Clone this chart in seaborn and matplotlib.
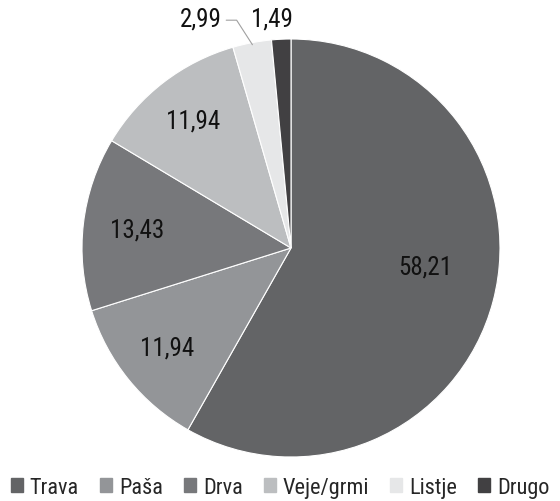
import numpy as np
import matplotlib
matplotlib.use("Agg")
import matplotlib.pyplot as plt
import seaborn as sns

categories = ["Trava", "Paša", "Drva", "Veje/grmi", "Listje", "Drugo"]
values = [58.21, 11.94, 13.43, 11.94, 2.99, 1.49]
labels = ["58,21", "11,94", "13,43", "11,94", "2,99", "1,49"]
colors = ["#636466", "#939598", "#77787b", "#bcbec0", "#e6e7e8", "#414042"]

sns.set_theme(style="white")
plt.rcParams["font.family"] = ["Roboto Condensed", "Liberation Sans Narrow", "Roboto", "DejaVu Sans"]

fig = plt.figure(figsize=(5.6, 5.02), dpi=100)
R_px = 209
cx, cy = 291, 502 - 249
ax = fig.add_axes([(cx - R_px) / 560, (cy - R_px) / 502, 2 * R_px / 560, 2 * R_px / 502])
wedges, _ = ax.pie(values, colors=colors, startangle=90, counterclock=False,
                   wedgeprops=dict(edgecolor="white", linewidth=0.8))
ax.set_xlim(-1, 1)
ax.set_ylim(-1, 1)
ax.set_aspect("equal")

fs = 18
inside = {0: 0.65, 1: 0.76, 2: 0.74, 3: 0.77}
for i, w in enumerate(wedges):
    mid = np.deg2rad((w.theta1 + w.theta2) / 2)
    if i in inside:
        d = inside[i]
        ang = mid + (np.deg2rad(7) if i == 0 else 0)
        ax.text(d * np.cos(ang), d * np.sin(ang), labels[i], ha="center", va="center",
                fontsize=fs, color="#111111")
    elif i == 4:
        x0, y0 = np.cos(mid) * 0.99, np.sin(mid) * 0.99
        ax.plot([x0, -0.26, -0.31], [y0, 1.09, 1.09], color="#a0a0a0", lw=0.8, clip_on=False)
        ax.text(-0.33, 1.1, labels[i], ha="right", va="center", fontsize=fs, color="#111111")
    else:
        ax.text(-0.09, 1.1, labels[i], ha="center", va="center", fontsize=fs, color="#111111")

handles = [plt.Rectangle((0, 0), 1, 1, color=c) for c in colors]
fig.legend(handles, categories, loc="lower center", bbox_to_anchor=(0.5, -0.025), ncol=6,
           frameon=False, fontsize=16, handlelength=0.55, handleheight=0.6,
           handletextpad=0.3, columnspacing=0.95, borderpad=0.2)

fig.savefig("out.png", dpi=100)
